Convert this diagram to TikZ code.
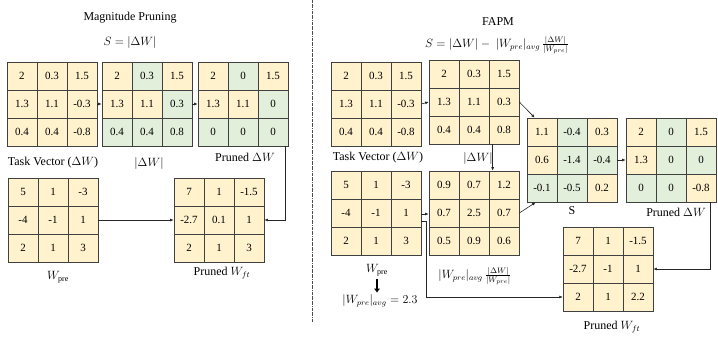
\documentclass[tikz,border=0pt]{standalone}
\usepackage{fontspec}
\setmainfont{Liberation Serif}
\usetikzlibrary{arrows.meta}

\definecolor{cY}{HTML}{FFF2CC}
\definecolor{cG}{HTML}{E2EFDA}
\definecolor{cB}{HTML}{404040}

% 3x3 weight grid: name, top-left corner, list of colour/value
\newcommand{\wgrid}[3]{%
  \begin{scope}[shift={(#2)}]
    \foreach \f/\v [count=\i from 0] in {#3} {
      \pgfmathtruncatemacro{\cc}{mod(\i,3)}
      \pgfmathtruncatemacro{\rr}{div(\i,3)}
      \node[cell, fill=\f] (#1-\i) at (\cc*30+15, \rr*28+14) {\v};
    }
    \node[gridbox] (#1) at (45,42) {};
  \end{scope}
}

\begin{document}
\begin{tikzpicture}[x=1pt, y=-1pt,
    cell/.style={draw=cB, line width=0.5pt, minimum width=30pt, minimum height=28pt,
      inner sep=0pt, font=\fontsize{11}{12}\selectfont},
    gridbox/.style={draw=cB, line width=0.7pt, minimum width=90pt, minimum height=84pt, inner sep=0pt},
    lbl/.style={font=\fontsize{12}{14}\selectfont, inner sep=1pt},
    arr/.style={-{Latex[length=3.5pt,width=3pt]}, draw=black!85, line width=0.6pt},
    fatarr/.style={-{Latex[length=4pt,width=6.5pt]}, line width=2.2pt},
    divider/.style={draw=black!70, densely dashdotted, line width=0.5pt}]
    \useasboundingbox (0,0) rectangle (718,337);

    % Magnitude pruning
    \begin{scope}
        \node[lbl] (titL) at (130,18) {Magnitude Pruning};
        \node[lbl] (fmlL) at (130,43) {$S = |\Delta W|$};

        \wgrid{tvL}{7,62}{cY/2, cY/0.3, cY/1.5, cY/1.3, cY/1.1, cY/-0.3, cY/0.4, cY/0.4, cY/-0.8}
        \wgrid{adwL}{102,62}{cY/2, cG/0.3, cY/1.5, cY/1.3, cY/1.1, cG/0.3, cG/0.4, cG/0.4, cG/0.8}
        \wgrid{pdwL}{198,62}{cY/2, cG/0, cY/1.5, cY/1.3, cY/1.1, cG/0, cG/0, cG/0, cG/0}
        \wgrid{wpL}{8,178}{cY/5, cY/1, cY/-3, cY/-4, cY/-1, cY/1, cY/2, cY/1, cY/3}
        \wgrid{wftL}{174,178}{cY/7, cY/1, cY/-1.5, cY/-2.7, cY/0.1, cY/1, cY/2, cY/1, cY/3}

        \node[lbl] (tvLl) at (53,163) {Task Vector ($\Delta W$)};
        \node[lbl] (adwLl) at (149,163) {$|\Delta W|$};
        \node[lbl] (pdwLl) at (245,157) {Pruned $\Delta W$};
        \node[lbl] (wpLl) at (58,277) {$W_{\mathrm{pre}}$};
        \node[lbl] (wftLl) at (222,273) {Pruned $W_{ft}$};

        \draw[arr] (tvL.east) -- (adwL.west);
        \draw[arr] (adwL.east) -- (pdwL.west);
        \draw[arr] (wpL.east) -- (wftL.west);
        \draw[arr] ([xshift=-3pt]pdwL.south east) |- (wftL.east);
    \end{scope}

    \draw[divider] (312,0) -- (312,322);

    % FAPM
    \begin{scope}
        \node[lbl] (titR) at (498,22) {FAPM};
        \node[lbl] (fmlR) at (497,45) {$S = |\Delta W| -\ |W_{pre}|_{avg}\,\frac{|\Delta W|}{|W_{pre}|}$};

        \wgrid{tvR}{331,62}{cY/2, cY/0.3, cY/1.5, cY/1.3, cY/1.1, cY/-0.3, cY/0.4, cY/0.4, cY/-0.8}
        \wgrid{adwR}{429,60}{cY/2, cY/0.3, cY/1.5, cY/1.3, cY/1.1, cY/0.3, cY/0.4, cY/0.4, cY/0.8}
        \wgrid{wpR}{331,171}{cY/5, cY/1, cY/-3, cY/-4, cY/-1, cY/1, cY/2, cY/1, cY/3}
        \wgrid{wavg}{429,171}{cY/0.9, cY/0.7, cY/1.2, cY/0.7, cY/2.5, cY/0.7, cY/0.5, cY/0.9, cY/0.6}
        \wgrid{sR}{527,118}{cY/1.1, cG/-0.4, cY/0.3, cY/0.6, cG/-1.4, cG/-0.4, cG/-0.1, cG/-0.5, cY/0.2}
        \wgrid{pdwR}{626,118}{cY/2, cG/0, cY/1.5, cY/1.3, cG/0, cG/0, cG/0, cG/0, cY/-0.8}
        \wgrid{wftR}{563,227}{cY/7, cY/1, cY/-1.5, cY/-2.7, cY/-1, cY/1, cY/2, cY/1, cY/2.2}

        \node[lbl] (tvRl) at (378,158) {Task Vector ($\Delta W$)};
        \node[lbl] (adwRl) at (478,158) {$|\Delta W|$};
        \node[lbl] (wpRl) at (377,270) {$W_{\mathrm{pre}}$};
        \node[lbl] (avgl) at (380,301) {$|W_{pre}|_{avg} = 2.3$};
        \node[lbl] (wavgl) at (475,276) {$|W_{pre}|_{avg}\,\frac{|\Delta W|}{|W_{pre}|}$};
        \node[lbl] (sRl) at (572,211) {S};
        \node[lbl] (pdwRl) at (676,212) {Pruned $\Delta W$};
        \node[lbl] (wftRl) at (612,327) {Pruned $W_{ft}$};

        \draw[arr] (tvR.east) -- (adwR.west);
        \draw[arr] (adwR.east) -- ([xshift=8pt]sR.north west);
        \draw[arr] ([xshift=64pt]adwR.south west) -- ([xshift=64pt]wavg.north west);
        \draw[arr] ([yshift=-1pt]wpR.east) -- ([yshift=-1pt]wavg.west);
        \draw[arr] (wavg.east) -- ([xshift=9pt]sR.south west);
        \draw[arr] (sR.east) -- (pdwR.west);
        \draw[arr] ([xshift=-6pt]pdwR.south east) |- (wftR.east);
        \draw[arr] ([yshift=-8pt]wpR.east) -- ++(5,0) |- (wftR-6.west);
        \draw[fatarr] ([yshift=-2pt]wpRl.south) -- ([yshift=1pt]wpRl.south |- avgl.north);
    \end{scope}
\end{tikzpicture}
\end{document}
